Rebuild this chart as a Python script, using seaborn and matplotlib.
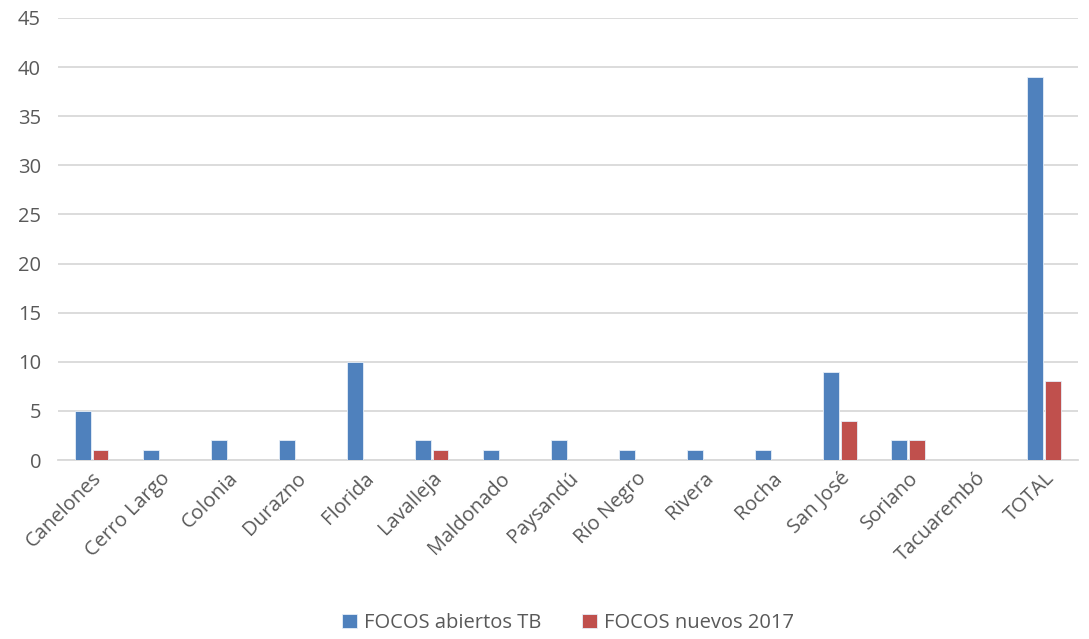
import pandas as pd
import matplotlib.pyplot as plt
import seaborn as sns

# -------------------------------
# Data
# -------------------------------
departamentos = ["Canelones", "Cerro Largo", "Colonia", "Durazno", "Florida",
                 "Lavalleja", "Maldonado", "Paysandú", "Río Negro", "Rivera",
                 "Rocha", "San José", "Soriano", "Tacuarembó", "TOTAL"]
focos_abiertos = [5, 1, 2, 2, 10, 2, 1, 2, 1, 1, 1, 9, 2, 0, 39]
focos_nuevos = [1, 0, 0, 0, 0, 1, 0, 0, 0, 0, 0, 4, 2, 0, 8]
series = ["FOCOS abiertos TB", "FOCOS nuevos 2017"]
y_ticks = list(range(0, 50, 5))

df = pd.DataFrame({
    "Departamento": departamentos * 2,
    "Serie": [series[0]] * len(departamentos) + [series[1]] * len(departamentos),
    "Valor": focos_abiertos + focos_nuevos,
})

sns.set_theme(style="white")
plt.rcParams['font.family'] = ['Open Sans', 'DejaVu Sans']

fig, ax = plt.subplots(figsize=(10.89, 6.39), dpi=100)
sns.barplot(data=df, x="Departamento", y="Valor", hue="Serie",
            palette=["#4F81BD", "#C0504D"], saturation=1, width=0.52, gap=0.12,
            edgecolor="#E6EEF8", linewidth=0.6, ax=ax, zorder=3)

ax.set_ylim(0, 45)
ax.set_yticks(y_ticks)
ax.set_xlim(-0.5, len(departamentos) - 0.5)
ax.yaxis.grid(True, color="#D9D9D9", linewidth=1.3, zorder=0)
ax.set_axisbelow(True)
for s in ["top", "right", "left"]:
    ax.spines[s].set_visible(False)
ax.spines["bottom"].set_color("#D9D9D9")
ax.spines["bottom"].set_linewidth(1.3)
ax.set_xlabel("")
ax.set_ylabel("")
ax.tick_params(axis="both", length=0, colors="#595959", labelsize=14.5)
ax.tick_params(axis="y", pad=12)
ax.tick_params(axis="x", pad=6)
plt.setp(ax.get_xticklabels(), rotation=45, ha="right", rotation_mode="anchor")

ax.legend(loc="upper center", bbox_to_anchor=(0.5, -0.305), ncol=2, frameon=False,
          fontsize=14.5, labelcolor="#595959", handlelength=0.75, handleheight=0.75,
          columnspacing=2.0, handletextpad=0.35)

plt.subplots_adjust(left=0.053, right=0.99, top=0.972, bottom=0.28)
plt.savefig("out.png", dpi=100)
